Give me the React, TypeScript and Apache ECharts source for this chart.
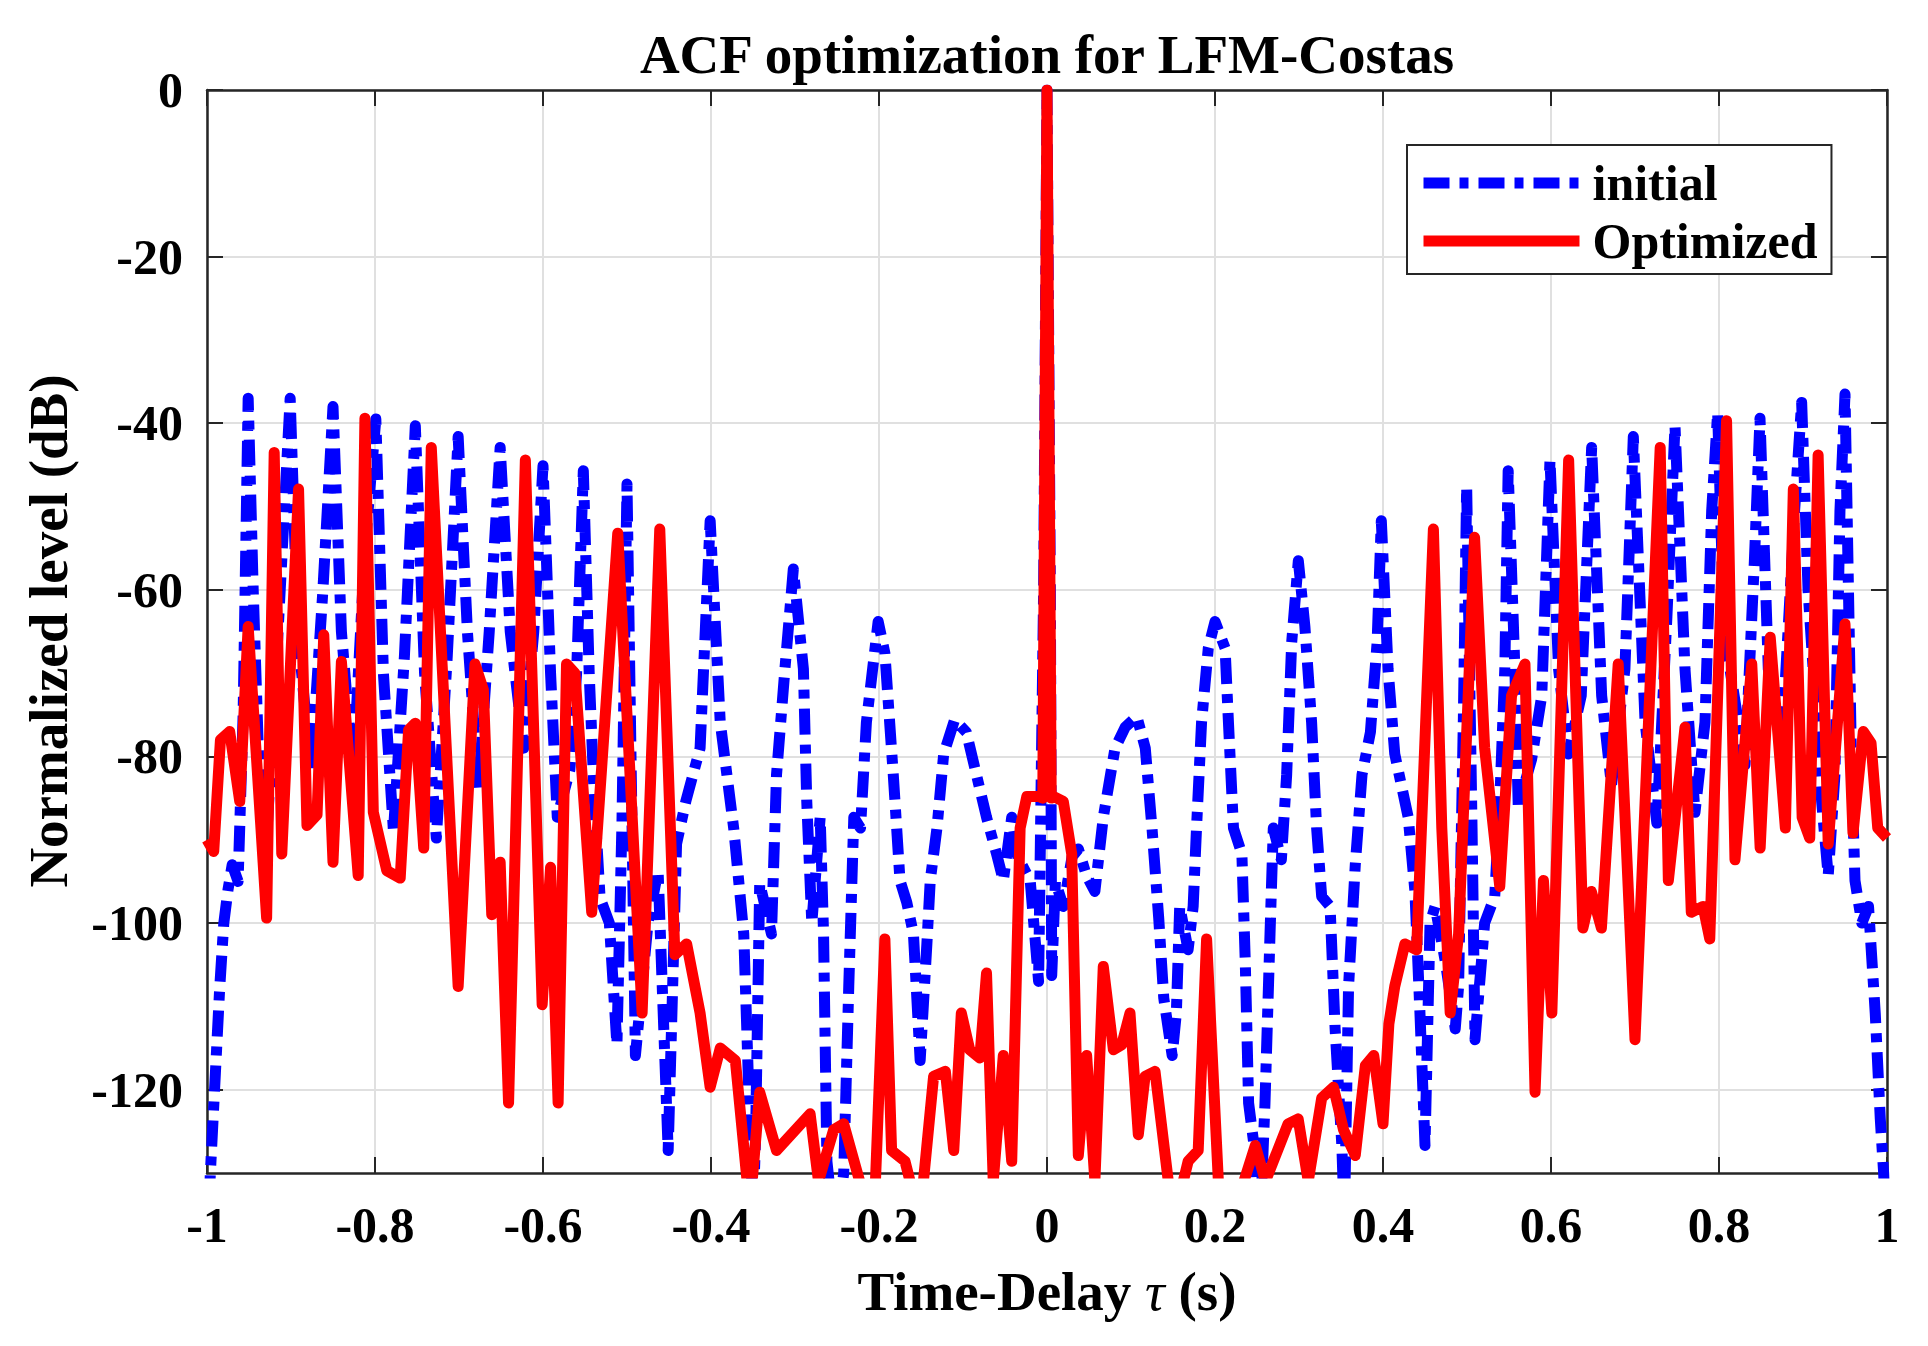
import React, { useEffect, useRef } from "react";
import * as echarts from "echarts";

// ---- data ----
const xTicks = [-1, -0.8, -0.6, -0.4, -0.2, 0, 0.2, 0.4, 0.6, 0.8, 1];
const yTicks = [-120, -100, -80, -60, -40, -20, 0];

const initialTau = [
  -1.0, -0.996, -0.99, -0.985, -0.98, -0.975, -0.97, -0.963, -0.957, -0.951, -0.945, -0.937, -0.928, -0.918,
  -0.901, -0.892, -0.876, -0.862, -0.85, -0.84, -0.826, -0.812, -0.799, -0.79, -0.778, -0.765, -0.752, -0.741,
  -0.727, -0.714, -0.701, -0.69, -0.677, -0.664, -0.651, -0.639, -0.623, -0.611, -0.6, -0.591, -0.583, -0.568,
  -0.56, -0.552, -0.545, -0.539, -0.532, -0.521, -0.512, -0.506, -0.5, -0.49, -0.475, -0.463, -0.451, -0.441,
  -0.43, -0.413, -0.401, -0.389, -0.373, -0.361, -0.353, -0.35, -0.347, -0.342, -0.328, -0.322, -0.312, -0.302,
  -0.29, -0.286, -0.28, -0.27, -0.266, -0.262, -0.252, -0.242, -0.236, -0.23, -0.222, -0.215, -0.201, -0.193,
  -0.183, -0.175, -0.167, -0.159, -0.151, -0.143, -0.139, -0.131, -0.123, -0.11, -0.096, -0.084, -0.072, -0.06,
  -0.052, -0.042, -0.035, -0.02, -0.01, -0.004, 0,
  0.004, 0.0056, 0.01, 0.0194, 0.03, 0.0373, 0.047, 0.057, 0.067, 0.081, 0.093, 0.107, 0.117, 0.125, 0.133,
  0.139, 0.149, 0.154, 0.158, 0.168, 0.174, 0.178, 0.184, 0.192, 0.2, 0.212, 0.216, 0.222, 0.232, 0.236, 0.24,
  0.248, 0.253, 0.2595, 0.2655, 0.2694, 0.279, 0.2853, 0.2913, 0.2992, 0.307, 0.315, 0.321, 0.327, 0.337,
  0.343, 0.351, 0.354, 0.359, 0.367, 0.375, 0.385, 0.393, 0.398, 0.406, 0.414, 0.43, 0.438, 0.444, 0.45, 0.456,
  0.462, 0.474, 0.486, 0.49, 0.4956, 0.4996, 0.506, 0.5095, 0.521, 0.533, 0.539, 0.545, 0.549, 0.557, 0.561,
  0.577, 0.589, 0.5988, 0.609, 0.6206, 0.636, 0.6484, 0.6603, 0.672, 0.688, 0.698, 0.712, 0.726, 0.738, 0.7476,
  0.7595, 0.7714, 0.7833, 0.7913, 0.7984, 0.806, 0.831, 0.842, 0.8488, 0.8587, 0.8746, 0.89, 0.8984, 0.906,
  0.9222, 0.93, 0.938, 0.944, 0.95, 0.958, 0.9619, 0.97, 0.978, 0.986, 0.992, 0.996, 1.0,
];
const initialLevel = [
  -140, -130, -118, -108, -100, -96, -93, -95, -75, -37, -60, -85, -88, -70,
  -37, -65, -82, -60, -38, -65, -82, -55, -39.5, -70, -89, -68, -40.3, -70,
  -89.8, -68, -41.6, -65, -84, -65, -42.9, -65, -79, -65, -45.1, -70, -87.3, -81.6,
  -70, -45.7, -70, -85, -97, -100, -114.6, -88, -47.3, -115.9, -100, -93.7, -127.3, -90.5,
  -85.4, -79, -51.7, -75.9, -88.6, -101.3, -126.7, -135, -126, -95.2, -101.3, -82.2, -69.5, -57.5,
  -69.5, -85.4, -100, -87.3, -101.3, -128.6, -138, -130, -107.6, -87.3, -88.6, -75.9, -63.8, -67.6,
  -82.2, -94.9, -97.5, -101.3, -116.5, -102.5, -94.9, -88.6, -79.7, -75.6, -77.1, -82.2, -87.3, -91.7,
  -94.9, -87.3, -92, -94.9, -107, -60, 0,
  -60, -106.3, -95, -98, -92, -91.1, -94.3, -96.2, -87.3, -79, -76.5, -75.2, -79, -88.6, -99.4,
  -109, -115.9, -110.8, -98, -103.2, -98, -88.6, -75.9, -67, -63.8, -67, -75.9, -88.6, -91.7, -104.5, -121.6,
  -127.9, -138, -121.6, -101.3, -88.6, -92.4, -82.2, -66.3, -56.5, -64.4, -75.9, -88.6, -96.8, -98,
  -112.7, -126.7, -136, -107.6, -93, -82.2, -77.1, -66.3, -51.7, -69.5, -79.7, -87.3, -96.2, -110.8, -126.7, -100,
  -98, -104.5, -112.7, -107.6, -75.9, -47.6, -88.6, -114, -100, -96.8, -85.4, -69.5, -45.7, -69.5, -86,
  -80.3, -72.7, -44.4, -69.5, -79.7, -72.7, -42.9, -72.7, -83.5, -69.5, -41.6, -75.9, -88, -63.2, -40.3,
  -69.5, -86.7, -75.9, -50.5, -38.7, -65, -81, -56.8, -39.4, -69.5, -79, -50.5, -37.5, -60,
  -85.4, -94.3, -82.2, -50.5, -36.5, -82.2, -94.9, -100, -98, -110.8, -123.5, -130, -140,
];

const optimizedTau = [
  -1.0, -0.992, -0.984, -0.973, -0.961, -0.951, -0.929, -0.92, -0.911, -0.891, -0.881, -0.869, -0.861, -0.85,
  -0.84, -0.82, -0.812, -0.802, -0.786, -0.77, -0.76, -0.752, -0.742, -0.733, -0.701, -0.681, -0.671, -0.661,
  -0.651, -0.641, -0.621, -0.601, -0.591, -0.582, -0.572, -0.562, -0.542, -0.511, -0.482, -0.461, -0.443, -0.429,
  -0.413, -0.401, -0.389, -0.371, -0.357, -0.351, -0.342, -0.322, -0.282, -0.272, -0.254, -0.242, -0.223, -0.205,
  -0.193, -0.185, -0.169, -0.163, -0.15, -0.135, -0.121, -0.111, -0.102, -0.092, -0.08, -0.072, -0.064, -0.052,
  -0.042, -0.032, -0.024, -0.01, -0.005, 0,
  0.005, 0.0075, 0.0194, 0.0294, 0.0373, 0.0472, 0.057, 0.067, 0.079, 0.089, 0.0988, 0.1087, 0.1167, 0.1286,
  0.1444, 0.155, 0.168, 0.18, 0.19, 0.204, 0.225, 0.248, 0.26, 0.287, 0.299, 0.311, 0.327, 0.341, 0.353, 0.367,
  0.379, 0.389, 0.4, 0.407, 0.414, 0.426, 0.44, 0.46, 0.47, 0.48, 0.49, 0.509, 0.521, 0.539, 0.553, 0.569, 0.581,
  0.591, 0.601, 0.621, 0.638, 0.648, 0.66, 0.68, 0.7, 0.73, 0.7397, 0.7595, 0.767, 0.781, 0.789, 0.809, 0.819,
  0.839, 0.849, 0.861, 0.879, 0.8885, 0.899, 0.908, 0.918, 0.93, 0.95, 0.9595, 0.9718, 0.981, 0.989, 1.0,
];
const optimizedLevel = [
  -90, -91.4, -78, -77, -85.4, -64.4, -99.4, -43.5, -91.7, -47.9, -88.3, -87, -65.4, -92.7,
  -68.6, -94.3, -39.4, -86.7, -93.7, -94.6, -76.8, -76, -91, -42.9, -107.6, -68.9, -72, -99,
  -92.7, -121.6, -44.4, -109.8, -93.3, -121.6, -68.9, -70, -98.7, -53.2, -110.8, -52.7, -103.8, -102.5,
  -110.8, -119.7, -115, -116.5, -131, -131, -120.3, -127.3, -122.9, -131, -124.8, -124.1, -131, -133,
  -101.9, -127.3, -128.6, -131, -134, -118.4, -117.8, -127.3, -110.8, -115.2, -116.2, -106, -131, -115.9,
  -128.6, -88.6, -84.8, -84.8, -85, 0,
  -85, -84.8, -85.4, -91.7, -127.9, -115.9, -131, -105.2, -115.2, -114.6, -110.8, -125.4, -118.4, -117.8,
  -131, -134, -128.6, -127.3, -101.9, -131, -134, -126.7, -131, -124.1, -123.5, -131, -121, -119.7, -124.8, -127.9,
  -117.1, -115.9, -124.1, -112.1, -107.6, -102.5, -103.2, -52.7, -88.6, -110.8, -101.3, -53.7, -79, -95.6, -72.7, -68.9, -120.3,
  -94.9, -110.8, -44.4, -100.6, -96.2, -100.6, -68.9, -114, -42.9, -94.9, -76.5, -98.7, -98, -101.9, -39.7, -92.4,
  -68.9, -91, -65.7, -88.6, -47.9, -87.3, -89.8, -43.8, -90.5, -64.1, -89.2, -77, -78.4, -88.6, -89.8,
];

const FONT = '"Liberation Serif", "Times New Roman", serif';
const AXIS_COLOR = "#262626";
const BLUE_DASH = [26, 10, 9, 10];

function pairs(xs: number[], ys: number[]): number[][] {
  return xs.map((x, i) => [x, ys[i]]);
}

export default function App() {
  const ref = useRef<HTMLDivElement>(null);

  useEffect(() => {
    if (!ref.current) return;
    const chart = echarts.init(ref.current, null, { renderer: "svg" });

    const tickCommon = { show: true, inside: true, length: 16, lineStyle: { color: AXIS_COLOR, width: 2 } };
    const axisLineCommon = { show: true, onZero: false, lineStyle: { color: AXIS_COLOR, width: 2.5 } };
    const gridLine = { show: true, lineStyle: { color: "#e0e0e0", width: 2 } };

    chart.setOption({
      animation: false,
      backgroundColor: "#ffffff",
      grid: { left: 207, right: 41, top: 90, bottom: 173, containLabel: false, outerBoundsMode: "none" },
      xAxis: [
        {
          type: "value",
          min: xTicks[0],
          max: xTicks[xTicks.length - 1],
          interval: 0.2,
          position: "bottom",
          axisLine: axisLineCommon,
          axisTick: tickCommon,
          axisLabel: {
            show: true,
            margin: 27,
            color: "#000",
            fontFamily: FONT,
            fontWeight: "bold",
            fontSize: 50,
            formatter: (v: number) => String(Number(v.toFixed(1))),
          },
          splitLine: gridLine,
        },
        {
          type: "value",
          min: xTicks[0],
          max: xTicks[xTicks.length - 1],
          interval: 0.2,
          position: "top",
          axisLine: axisLineCommon,
          axisTick: tickCommon,
          axisLabel: { show: false },
          splitLine: { show: false },
        },
      ],
      yAxis: [
        {
          type: "value",
          min: -130,
          max: 0,
          position: "left",
          axisLine: axisLineCommon,
          axisTick: { ...tickCommon, customValues: yTicks },
          axisLabel: {
            show: true,
            margin: 24,
            color: "#000",
            fontFamily: FONT,
            fontWeight: "bold",
            fontSize: 50,
            customValues: yTicks,
          },
          splitLine: gridLine,
        },
        {
          type: "value",
          min: -130,
          max: 0,
          position: "right",
          axisLine: axisLineCommon,
          axisTick: { ...tickCommon, customValues: yTicks },
          axisLabel: { show: false, customValues: yTicks },
          splitLine: { show: false },
        },
      ],
      legend: {
        orient: "vertical",
        left: 1407,
        top: 145,
        padding: [13, 14, 8, 11],
        itemWidth: 156,
        itemHeight: 20,
        itemGap: 8,
        borderColor: AXIS_COLOR,
        borderWidth: 2,
        backgroundColor: "#ffffff",
        borderRadius: 0,
        selectedMode: false,
        itemStyle: { opacity: 0, borderWidth: 0 },
        lineStyle: { width: 11 },
        textStyle: { color: "#000", fontFamily: FONT, fontWeight: "bold", fontSize: 50, padding: [0, 0, 0, 8] },
        data: ["initial", "Optimized"],
      },
      graphic: [
        {
          type: "text",
          x: 1047,
          y: 54,
          style: {
            text: "ACF optimization for LFM-Costas",
            fill: "#000",
            fontFamily: FONT,
            fontWeight: "bold",
            fontSize: 55,
            align: "center",
            verticalAlign: "middle",
          },
        },
        {
          type: "text",
          x: 1047,
          y: 1291,
          style: {
            text: "{b|Time-Delay }{i|τ}{b| (s)}",
            fill: "#000",
            fontFamily: FONT,
            fontWeight: "bold",
            fontSize: 55,
            align: "center",
            verticalAlign: "middle",
            rich: {
              b: { fontFamily: FONT, fontWeight: "bold", fontSize: 55, fill: "#000" },
              i: { fontFamily: FONT, fontStyle: "italic", fontWeight: "normal", fontSize: 55, fill: "#000" },
            },
          },
        },
        {
          type: "text",
          x: 48,
          y: 631,
          rotation: Math.PI / 2,
          style: {
            text: "Normalized level (dB)",
            fill: "#000",
            fontFamily: FONT,
            fontWeight: "bold",
            fontSize: 55,
            align: "center",
            verticalAlign: "middle",
          },
        },
      ],
      series: [
        {
          name: "initial",
          type: "line",
          xAxisIndex: 0,
          yAxisIndex: 0,
          data: pairs(initialTau, initialLevel),
          showSymbol: false,
          symbol: "none",
          clip: true,
          color: "#0000ff",
          lineStyle: { color: "#0000ff", width: 11, type: BLUE_DASH, cap: "butt", join: "round" },
          z: 2,
        },
        {
          name: "Optimized",
          type: "line",
          xAxisIndex: 0,
          yAxisIndex: 0,
          data: pairs(optimizedTau, optimizedLevel),
          showSymbol: false,
          symbol: "none",
          clip: true,
          color: "#ff0000",
          lineStyle: { color: "#ff0000", width: 11, type: "solid", join: "round" },
          z: 3,
        },
      ],
    });

    return () => chart.dispose();
  }, []);

  return (
    <div
      ref={ref}
      style={{ position: "absolute", left: 0, top: 0, width: 1928, height: 1346, background: "#fff" }}
    />
  );
}
